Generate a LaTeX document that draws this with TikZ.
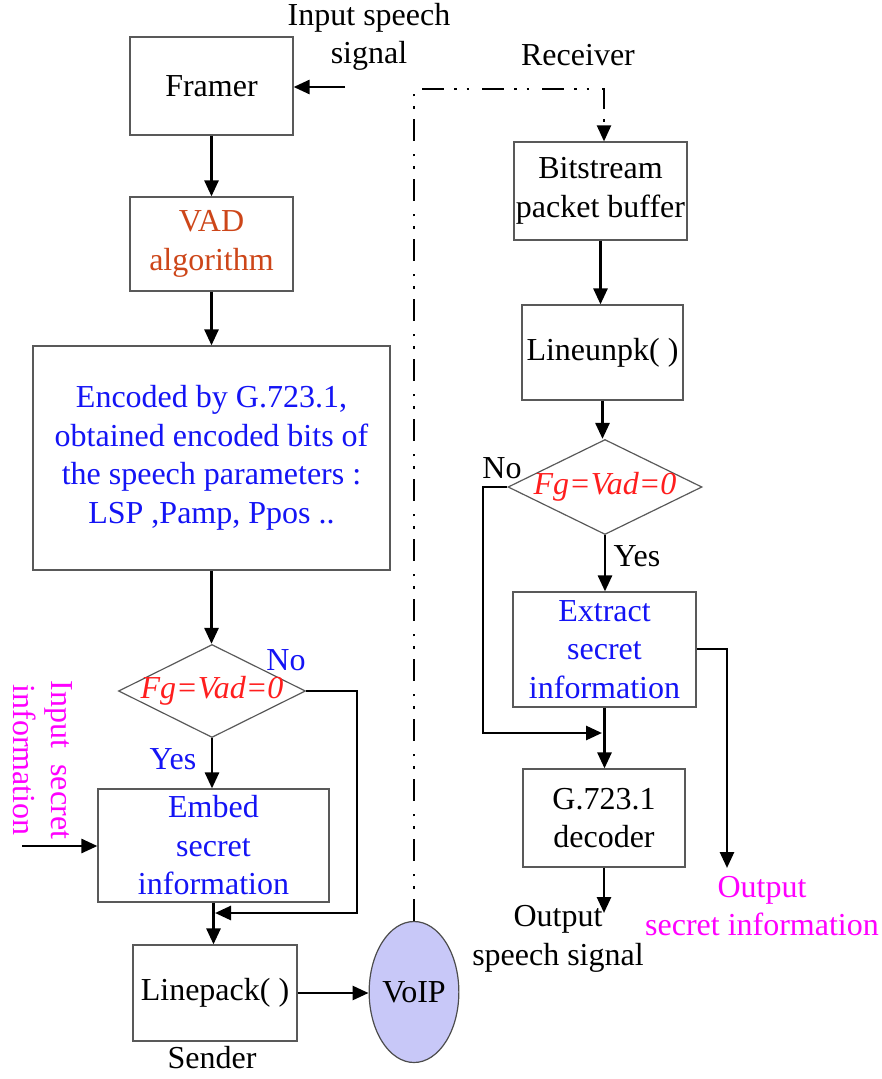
\documentclass[tikz,border=0pt]{standalone}
\usepackage{fontspec}
\setmainfont{Liberation Serif}
\usetikzlibrary{arrows.meta,shapes.geometric}
\definecolor{vadc}{RGB}{205,70,25}
\definecolor{myblue}{RGB}{20,20,245}
\definecolor{mymag}{RGB}{255,0,255}
\definecolor{myred}{RGB}{255,30,30}
\definecolor{voipfill}{RGB}{200,200,248}
\begin{document}
\begin{tikzpicture}[x=1pt,y=-1pt,
  every node/.style={font=\fontsize{32}{38.5}\selectfont},
  box/.style={draw=black!65, line width=1.2pt, fill=white, inner sep=0pt, align=center},
  dia/.style={diamond, draw=black!65, line width=1.2pt, inner sep=0pt, text=myred},
  conn/.style={line width=2.7pt, -{Triangle[length=16pt,width=14pt]}},
  txt/.style={align=center, inner sep=0pt}
]
\useasboundingbox (0,0) rectangle (882,1079);

% sender column
\node[box, minimum width=163pt, minimum height=98pt] (framer) at (211.5,86) {Framer};
\node[box, minimum width=163pt, minimum height=94pt, text=vadc] (vad) at (211.5,244) {VAD\\algorithm};
\node[box, minimum width=357pt, minimum height=224pt, text=myblue] (enc) at (211.5,458)
  {Encoded by G.723.1,\\obtained encoded bits of\\the speech parameters :\\LSP ,Pamp, Ppos ..};
\node[dia, minimum width=187pt, minimum height=93pt] (d1) at (212,691) {\makebox[0pt]{\textit{Fg=Vad=0}}};
\node[box, minimum width=231pt, minimum height=113pt, text=myblue] (embed) at (213.5,845.5)
  {Embed\\secret\\information};
\node[box, minimum width=164pt, minimum height=96pt] (linepack) at (215,993) {Linepack( )};
\node[txt] (sender) at (212,1058) {Sender};
\node[txt] (inspeech) at (369,37) {Input speech\\signal};
\node[txt, text=mymag, rotate=-90] (insecret) at (43,760) {Input\ \ secret\\information};
\node[txt, text=myblue] (no1) at (286,660) {No};
\node[txt, text=myblue] (yes1) at (173,759) {Yes};

\node[ellipse, draw=black!70, line width=1.2pt, fill=voipfill, minimum width=82pt, minimum height=141pt, inner sep=0pt] (voip) at (414,992) {VoIP};

% receiver column
\node[txt] (receiver) at (578,55) {Receiver};
\node[box, minimum width=173pt, minimum height=98pt] (bits) at (600.5,191) {Bitstream\\packet buffer};
\node[box, minimum width=161pt, minimum height=95pt] (unpk) at (602.5,352.5) {Lineunpk( )};
\node[dia, minimum width=194pt, minimum height=95pt] (d2) at (605,487) {\makebox[0pt]{\textit{Fg=Vad=0}}};
\node[box, minimum width=183pt, minimum height=115pt, text=myblue] (extract) at (604.5,649.5)
  {Extract\\secret\\information};
\node[box, minimum width=162pt, minimum height=98pt] (g723) at (604,818) {G.723.1\\decoder};
\node[txt] (outspeech) at (558,939) {Output\\speech signal};
\node[txt, text=mymag] (outsecret) at (762,906) {Output\\secret information};
\node[txt] (no2) at (502,468) {No};
\node[txt] (yes2) at (637,556) {Yes};

% coordinates
\coordinate (sin) at (345,87);
\coordinate (ssin) at (22,846);
\coordinate (j1) at (357,691);
\coordinate (j2) at (357,913);
\coordinate (j3) at (215,913);
\coordinate (k1) at (414,89);
\coordinate (k2) at (604,89);
\coordinate (m1) at (483,487);
\coordinate (m2) at (483,733);
\coordinate (m3) at (602,733);
\coordinate (e1) at (727,649);
\coordinate (e2) at (727,868);
\coordinate (os) at (604,913);

% sender connectors
\draw[conn] (sin) -- (sin -| framer.east);
\draw[conn] (framer.south) -- (framer.south |- vad.north);
\draw[conn] (vad.south) -- (vad.south |- enc.north);
\draw[conn] (enc.south) -- (enc.south |- d1.north);
\draw[conn] (d1.south) -- (d1.south |- embed.north);
\draw[conn] (d1.east) -- (j1) -- (j2) -- (j3);
\draw[conn] (embed.south) -- (embed.south |- linepack.north);
\draw[conn] (ssin) -- (ssin -| embed.west);
\draw[conn] (linepack.east) -- (linepack.east -| voip.west);

% network link
\draw[line width=2.2pt, dash pattern=on 22pt off 10pt on 2.5pt off 10pt on 2.5pt off 13pt, -{Triangle[length=16pt,width=14pt]}]
  (voip.north) -- (k1) -- (k2) -- (k2 |- bits.north);

% receiver connectors
\draw[conn] (bits.south) -- (bits.south |- unpk.north);
\draw[conn] (unpk.south) -- (unpk.south |- d2.north);
\draw[conn] (d2.south) -- (d2.south |- extract.north);
\draw[conn] (d2.west) -- (m1) -- (m2) -- (m3);
\draw[conn] (extract.south) -- (extract.south |- g723.north);
\draw[conn] (e1 -| extract.east) -- (e1) -- (e2);
\draw[conn] (g723.south) -- (os);
\end{tikzpicture}
\end{document}
